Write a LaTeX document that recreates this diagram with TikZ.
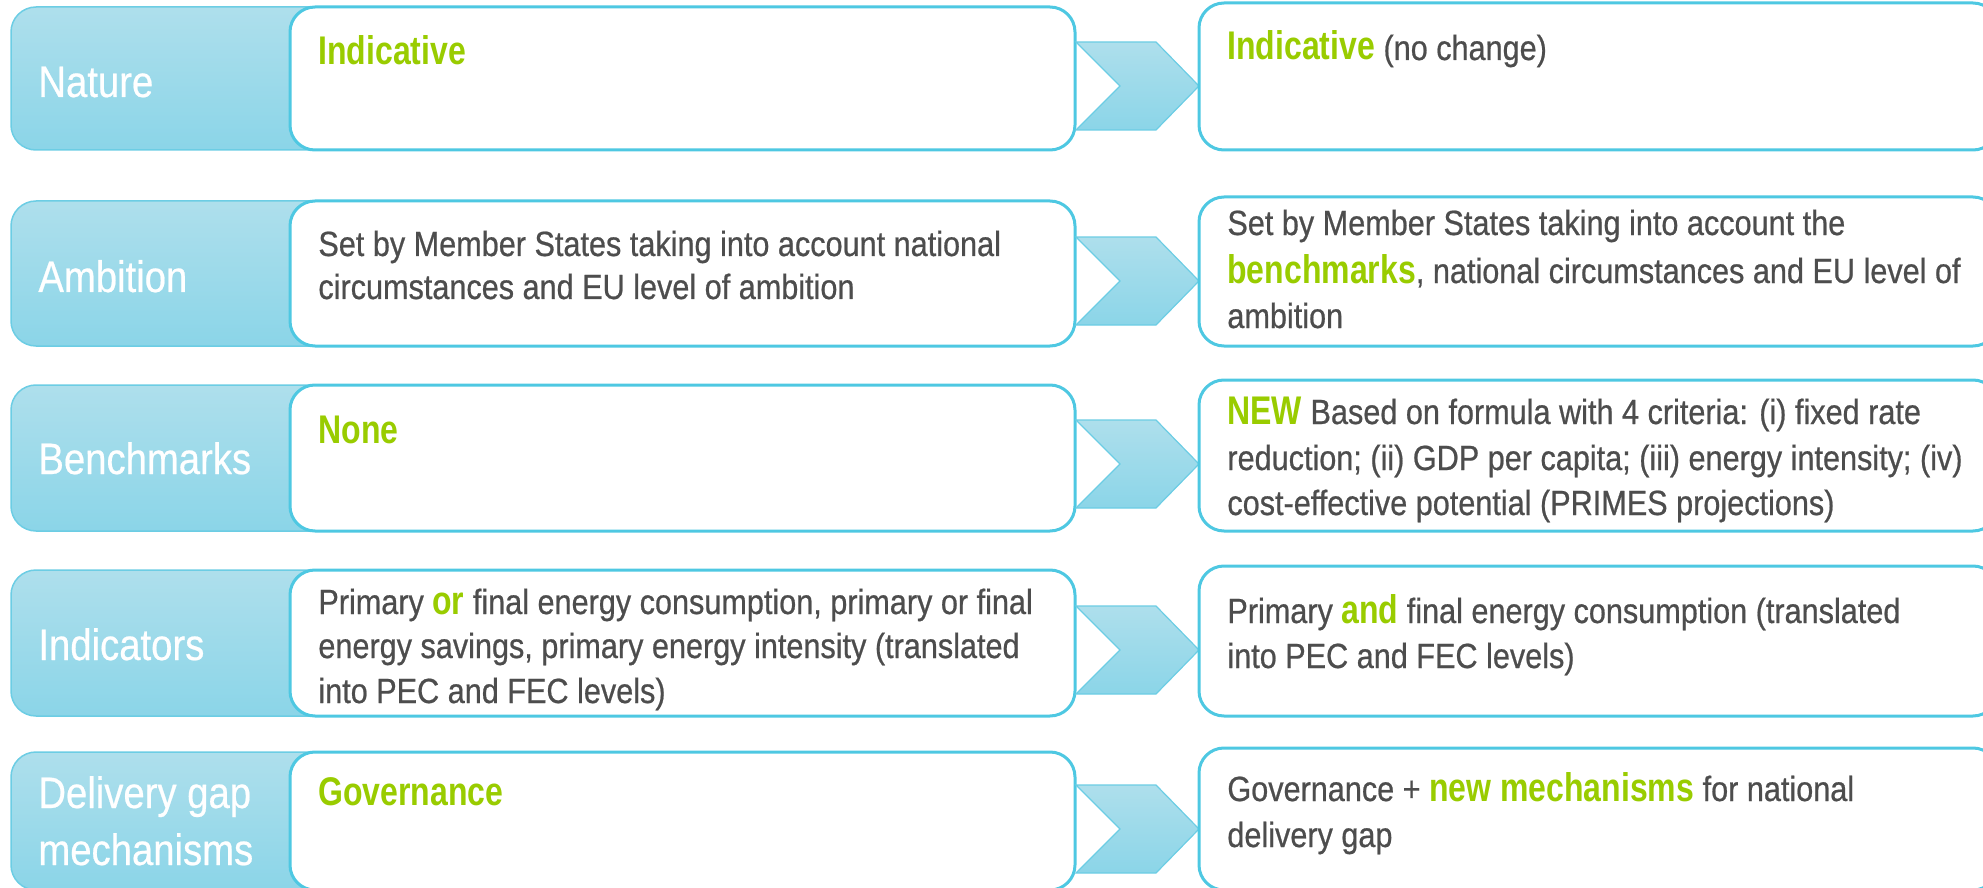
\documentclass[tikz,border=0pt]{standalone}
\usepackage{fontspec}
\newfontfamily\bodyf{Liberation Sans}[FakeStretch=0.875, FakeBold=0.6]
\newfontfamily\greenf{Liberation Sans}[FakeStretch=0.80]
\newfontfamily\labelf{Liberation Sans}[FakeStretch=0.87, FakeBold=0.5]
\definecolor{txtgray}{HTML}{4D4D4D}
\definecolor{hlgreen}{HTML}{99CC00}
\definecolor{cyanline}{HTML}{4EC8E2}
\definecolor{lblline}{HTML}{6CCDE4}
\definecolor{lbltop}{HTML}{AEDFEC}
\definecolor{lblbot}{HTML}{8BD5E8}
\newcommand\hl[1]{{\greenf\bfseries\fontsize{20}{22}\selectfont\color{hlgreen}#1}}
\tikzset{
  lblbox/.style={rounded corners=12.5pt, draw=lblline, line width=0.75pt, top color=lbltop, bottom color=lblbot},
  whitebox/.style={rounded corners=12.5pt, draw=cyanline, line width=1.5pt, fill=white},
  chev/.style={draw=lblline, line width=0.6pt, top color=lbltop, bottom color=lblbot},
  lbl/.style={anchor=base west, inner sep=0pt, text=white, font=\labelf\fontsize{22}{26}\selectfont},
  txt/.style={anchor=base west, inner sep=0pt, text=txtgray, font=\bodyf\fontsize{17.5}{22}\selectfont},
}
\begin{document}
\begin{tikzpicture}[x=0.5pt, y=-0.5pt]
\useasboundingbox (0,0) rectangle (1983,888);
\clip (0,0) rectangle (1983,888);
% rows: left top, bottom, right top, chevron centre
\foreach \lt/\bt/\rt/\cy [count=\i] in {7/150/3/86, 201/346/197/281, 385/531/380/464, 570/716/566/650, 752/890/748/829}{
  \draw[lblbox] (11,\lt) rectangle (340,\bt);
  \draw[whitebox] (290,\lt) rectangle (1075,\bt);
  \draw[chev] (1076,\cy-44) -- (1156,\cy-44) -- (1199,\cy) -- (1156,\cy+44) -- (1076,\cy+44) -- (1120,\cy) -- cycle;
  \draw[whitebox] (1199,\rt) rectangle (1998,\bt);
}
% labels
\node[lbl] (n1) at (38,97) {Nature};
\node[lbl] (n2) at (38,292) {Ambition};
\node[lbl] (n3) at (38,474) {Benchmarks};
\node[lbl] (n4) at (38,660) {Indicators};
\node[lbl] (n5a) at (38,808) {Delivery gap};
\node[lbl] (n5b) at (38,865) {mechanisms};
% left texts
\node[txt] (a1) at (318,65) {\hl{Indicative}};
\node[txt] (a2a) at (318,256) {Set by Member States taking into account national};
\node[txt] (a2b) at (318,299) {circumstances and EU level of ambition};
\node[txt] (a3) at (318,443) {\hl{None}};
\node[txt] (a4a) at (318,614) {Primary \hl{or} final energy consumption, primary or final};
\node[txt] (a4b) at (318,658) {energy savings, primary energy intensity (translated};
\node[txt] (a4c) at (318,703) {into PEC and FEC levels)};
\node[txt] (a5) at (318,805) {\hl{Governance}};
% right texts
\node[txt] (b1) at (1227,60) {\hl{Indicative} (no change)};
\node[txt] (b2a) at (1227,235) {Set by Member States taking into account the};
\node[txt] (b2b) at (1227,283) {\hl{benchmarks}, national circumstances and EU level of};
\node[txt] (b2c) at (1227,328) {ambition};
\node[txt] (b3a) at (1227,424) {\hl{NEW} Based on formula with 4 criteria: (i) fixed rate};
\node[txt] (b3b) at (1227,470) {reduction; (ii) GDP per capita; (iii) energy intensity; (iv)};
\node[txt] (b3c) at (1227,515) {cost-effective potential (PRIMES projections)};
\node[txt] (b4a) at (1227,623) {Primary \hl{and} final energy consumption (translated};
\node[txt] (b4b) at (1227,668) {into PEC and FEC levels)};
\node[txt] (b5a) at (1227,801) {Governance + \hl{new mechanisms} for national};
\node[txt] (b5b) at (1227,847) {delivery gap};
\end{tikzpicture}
\end{document}
